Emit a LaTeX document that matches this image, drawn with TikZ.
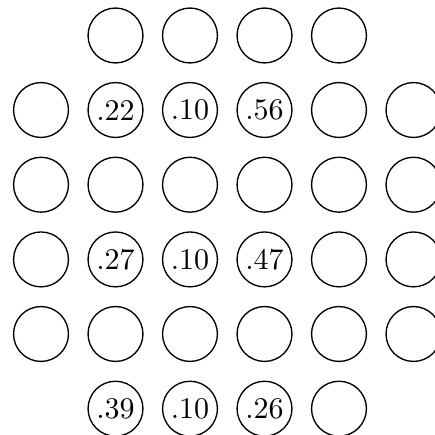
\documentclass[tikz,border=0pt]{standalone}
\begin{document}
\begin{tikzpicture}[x=1pt,y=1pt,
  cell/.style={draw, circle, line width=0.45pt, inner sep=0pt, minimum size=18.3pt},
  lbl/.style={font=\normalsize, inner sep=0pt}]
\useasboundingbox (0,0) rectangle (145,-145);
\clip (0,0) rectangle (145,-145);
\def\colx{{13.67,38.5,63.33,88.17,113,137.83}}
\def\rowy{{-11.83,-36.67,-61.57,-86.47,-111.33,-136.23}}
% row 1
\foreach \c in {1,...,4}{
  \node[cell] (c-1-\c) at ({\colx[\c]},{\rowy[0]}) {};
}
% rows 2-5
\foreach \r in {2,...,5}{
  \foreach \c in {0,...,5}{
    \pgfmathtruncatemacro{\ri}{\r-1}
    \node[cell] (c-\r-\c) at ({\colx[\c]},{\rowy[\ri]}) {};
  }
}
% row 6
\foreach \c in {1,...,4}{
  \node[cell] (c-6-\c) at ({\colx[\c]},{\rowy[5]}) {};
}
% labels
\node[lbl] (l-2-1) at (c-2-1) {.22};
\node[lbl] (l-2-2) at (c-2-2) {.10};
\node[lbl] (l-2-3) at (c-2-3) {.56};
\node[lbl] (l-4-1) at (c-4-1) {.27};
\node[lbl] (l-4-2) at (c-4-2) {.10};
\node[lbl] (l-4-3) at (c-4-3) {.47};
\node[lbl] (l-6-1) at (c-6-1) {.39};
\node[lbl] (l-6-2) at (c-6-2) {.10};
\node[lbl] (l-6-3) at (c-6-3) {.26};
\end{tikzpicture}
\end{document}
